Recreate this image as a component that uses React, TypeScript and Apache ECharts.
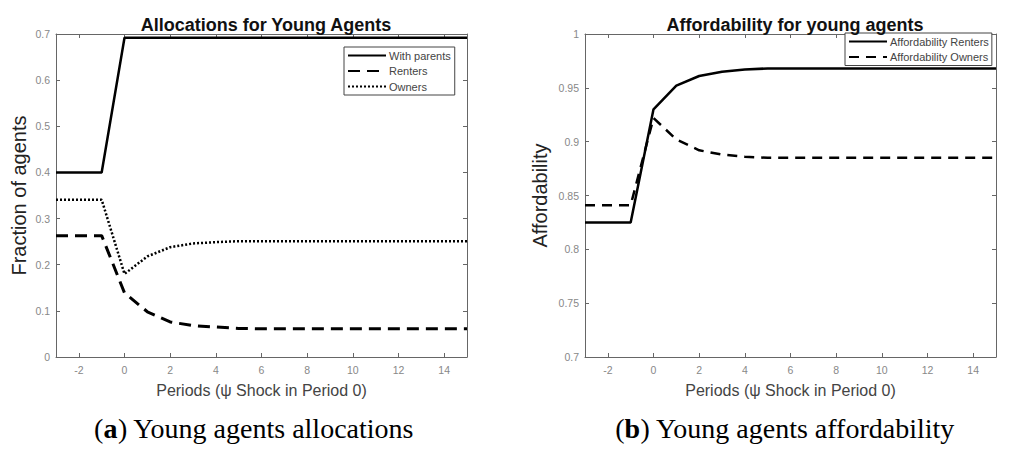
import React, { useEffect, useRef } from "react";
import * as echarts from "echarts";

const periods = [-3, -2, -1, 0, 1, 2, 3, 4, 5, 6, 7, 8, 9, 10, 11, 12, 13, 14, 15];
const withParents = [0.4, 0.4, 0.4, 0.692, 0.692, 0.692, 0.692, 0.692, 0.692, 0.692, 0.692, 0.692, 0.692, 0.692, 0.692, 0.692, 0.692, 0.692, 0.692];
const renters = [0.263, 0.263, 0.263, 0.139, 0.098, 0.076, 0.068, 0.065, 0.062, 0.061, 0.061, 0.061, 0.061, 0.061, 0.061, 0.061, 0.061, 0.061, 0.061];
const owners = [0.341, 0.341, 0.341, 0.18, 0.218, 0.238, 0.246, 0.249, 0.251, 0.251, 0.251, 0.251, 0.251, 0.251, 0.251, 0.251, 0.251, 0.251, 0.251];
const affRenters = [0.825, 0.825, 0.825, 0.93, 0.952, 0.961, 0.965, 0.967, 0.968, 0.968, 0.968, 0.968, 0.968, 0.968, 0.968, 0.968, 0.968, 0.968, 0.968];
const affOwners = [0.841, 0.841, 0.841, 0.922, 0.902, 0.892, 0.888, 0.886, 0.885, 0.885, 0.885, 0.885, 0.885, 0.885, 0.885, 0.885, 0.885, 0.885, 0.885];
const xTicks = [-2, 0, 2, 4, 6, 8, 10, 12, 14];

const FONT = "Liberation Sans";
const AXIS_COLOR = "#666";

function pairs(ys: number[]) {
  return periods.map((x, i) => [x, ys[i]]);
}

function xAxes(grid: number) {
  return [
    {
      type: "value",
      gridIndex: grid,
      min: -3,
      max: 15,
      position: "bottom",
      axisLine: { show: true, onZero: false, lineStyle: { color: AXIS_COLOR, width: 1 } },
      axisTick: { show: true, inside: true, length: 4, customValues: xTicks, lineStyle: { color: AXIS_COLOR } },
      axisLabel: { customValues: xTicks, color: "#888", fontSize: 10.5, fontFamily: FONT, margin: 7 },
      splitLine: { show: false },
      name: "Periods (\u03c8 Shock in Period 0)",
      nameLocation: "middle",
      nameGap: 25,
      nameTextStyle: { color: "#444", fontSize: 16, fontFamily: FONT },
    },
    {
      type: "value",
      gridIndex: grid,
      min: -3,
      max: 15,
      position: "top",
      axisLine: { show: true, onZero: false, lineStyle: { color: AXIS_COLOR, width: 1 } },
      axisTick: { show: true, inside: true, length: 4, customValues: xTicks, lineStyle: { color: AXIS_COLOR } },
      axisLabel: { show: false },
      splitLine: { show: false },
    },
  ];
}

function yAxes(grid: number, min: number, max: number, interval: number, name: string, nameGap: number) {
  const fmt = (v: number) => String(Number(v.toFixed(2)));
  return [
    {
      type: "value",
      gridIndex: grid,
      min,
      max,
      interval,
      position: "left",
      axisLine: { show: true, onZero: false, lineStyle: { color: AXIS_COLOR, width: 1 } },
      axisTick: { show: true, inside: true, length: 4, lineStyle: { color: AXIS_COLOR } },
      axisLabel: { color: "#888", fontSize: 10.5, fontFamily: FONT, margin: 6, formatter: fmt },
      splitLine: { show: false },
      name,
      nameLocation: "middle",
      nameGap,
      nameTextStyle: { color: "#222", fontSize: 20, fontFamily: FONT },
    },
    {
      type: "value",
      gridIndex: grid,
      min,
      max,
      interval,
      position: "right",
      axisLine: { show: true, onZero: false, lineStyle: { color: AXIS_COLOR, width: 1 } },
      axisTick: { show: true, inside: true, length: 4, lineStyle: { color: AXIS_COLOR } },
      axisLabel: { show: false },
      splitLine: { show: false },
    },
  ];
}

function lineSeries(name: string, ys: number[], xi: number, yi: number, type: string, dash: any, width: number) {
  return {
    name,
    type: "line",
    xAxisIndex: xi,
    yAxisIndex: yi,
    data: pairs(ys),
    symbol: "none",
    showSymbol: false,
    lineStyle: { color: "#000", width, type: dash ?? type },
    itemStyle: { color: "#000" },
    z: 3,
  };
}

export default function App() {
  const ref = useRef<HTMLDivElement>(null);
  useEffect(() => {
    document.body.style.margin = "0";
    const chart = echarts.init(ref.current!, null, { renderer: "svg" });
    const legendCommon = {
      orient: "vertical",
      backgroundColor: "#fff",
      borderColor: "#444",
      borderWidth: 1,
      borderRadius: 0,
      itemWidth: 38,
      itemHeight: 11,
      itemGap: 4.5,
      itemStyle: { opacity: 0 },
      textStyle: { fontSize: 11, color: "#444", fontFamily: FONT, padding: [0, 0, 0, -2] },
    };
    chart.setOption({
      animation: false,
      backgroundColor: "#fff",
      title: [
        {
          text: "Allocations for Young Agents",
          left: 261,
          top: 11,
          textAlign: "center",
          textStyle: { fontSize: 18, fontWeight: "bold", color: "#111", fontFamily: FONT },
        },
        {
          text: "Affordability for young agents",
          left: 790,
          top: 11,
          textAlign: "center",
          textStyle: { fontSize: 18, fontWeight: "bold", color: "#111", fontFamily: FONT },
        },
      ],
      grid: [
        { left: 56, top: 34, width: 411, height: 323, containLabel: false },
        { left: 585, top: 34, width: 411, height: 323, containLabel: false },
      ],
      xAxis: [...xAxes(0), ...xAxes(1)],
      yAxis: [
        ...yAxes(0, 0, 0.7, 0.1, "Fraction of agents", 27),
        ...yAxes(1, 0.7, 1, 0.05, "Affordability", 35),
      ],
      legend: [
        {
          ...legendCommon,
          data: ["With parents", "Renters", "Owners"],
          left: 344,
          top: 47,
          padding: [3, 4, 3, 3],
        },
        {
          ...legendCommon,
          data: ["Affordability Renters", "Affordability Owners"],
          left: 845,
          top: 33,
          padding: [3, 3, 3, 3],
        },
      ],
      series: [
        lineSeries("With parents", withParents, 0, 0, "solid", null, 2.5),
        lineSeries("Renters", renters, 0, 0, "dashed", [12, 7], 3),
        lineSeries("Owners", owners, 0, 0, "dotted", [2, 2], 2.5),
        lineSeries("Affordability Renters", affRenters, 2, 2, "solid", null, 2.5),
        lineSeries("Affordability Owners", affOwners, 2, 2, "dashed", [10, 7], 2.5),
      ],
      graphic: [
        {
          type: "text",
          x: 254,
          y: 428,
          style: {
            text: "({b|a}) Young agents allocations",
            fontSize: 28,
            fontFamily: "Liberation Serif",
            fill: "#000",
            align: "center",
            verticalAlign: "middle",
            rich: { b: { fontWeight: "bold", fontSize: 28, fontFamily: "Liberation Serif" } },
          },
        },
        {
          type: "text",
          x: 785,
          y: 428,
          style: {
            text: "({b|b}) Young agents affordability",
            fontSize: 28,
            fontFamily: "Liberation Serif",
            fill: "#000",
            align: "center",
            verticalAlign: "middle",
            rich: { b: { fontWeight: "bold", fontSize: 28, fontFamily: "Liberation Serif" } },
          },
        },
      ],
    });
    return () => chart.dispose();
  }, []);
  return <div ref={ref} style={{ width: 1033, height: 451 }} />;
}
